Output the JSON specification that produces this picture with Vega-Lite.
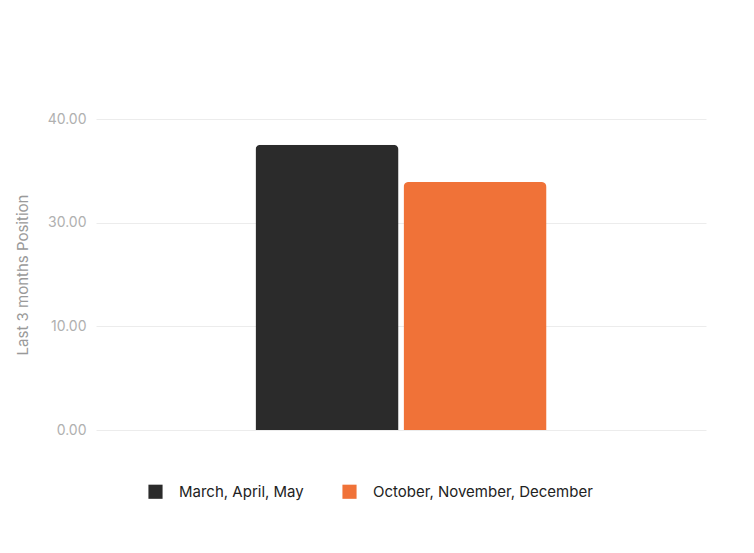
{
  "$schema": "https://vega.github.io/schema/vega-lite/v6.json",
  "width": 610,
  "height": 311,
  "autosize": {"type": "none"},
  "padding": {"left": 96, "top": 119, "right": 48, "bottom": 123},
  "background": "white",
  "config": {
    "font": "Inter",
    "view": {"stroke": null}
  },
  "data": {
    "values": [
      {"period": "Last 3 months", "series": "March, April, May", "value": 36.7},
      {"period": "Last 3 months", "series": "October, November, December", "value": 31.9}
    ]
  },
  "mark": {"type": "bar", "cornerRadiusTopLeft": 5, "cornerRadiusTopRight": 5},
  "encoding": {
    "x": {
      "field": "period",
      "type": "nominal",
      "scale": {"paddingInner": 0, "paddingOuter": 0.548},
      "axis": null
    },
    "xOffset": {
      "field": "series",
      "type": "nominal",
      "sort": null,
      "scale": {"paddingInner": 0.0338, "paddingOuter": 0}
    },
    "y": {
      "field": "value",
      "type": "quantitative",
      "scale": {"domain": [0, 40], "nice": false},
      "axis": {
        "values": [0, 13.3333, 26.6667, 40],
        "labelExpr": "datum.value == 0 ? '0.00' : datum.value < 20 ? '10.00' : datum.value < 30 ? '30.00' : '40.00'",
        "title": "Last 3 months Position",
        "titleFont": "Inter",
        "titleFontWeight": "normal",
        "titleFontSize": 15,
        "titleColor": "#9a9a9a",
        "titlePadding": 17,
        "labelFontSize": 14,
        "labelColor": "#b0b0b0",
        "labelPadding": 10,
        "ticks": false,
        "domain": false,
        "gridColor": "#ececec",
        "gridWidth": 1
      }
    },
    "color": {
      "field": "series",
      "type": "nominal",
      "sort": null,
      "scale": {"range": ["#2b2b2b", "#f07238"]},
      "legend": {
        "title": null,
        "orient": "none",
        "direction": "horizontal",
        "legendX": 52,
        "legendY": 365,
        "symbolType": "square",
        "symbolSize": 200,
        "symbolStrokeWidth": 0,
        "symbolOpacity": 1,
        "labelFontSize": 15,
        "labelColor": "#222222",
        "labelOffset": 16,
        "columnPadding": 38,
        "labelLimit": 300
      }
    }
  }
}
